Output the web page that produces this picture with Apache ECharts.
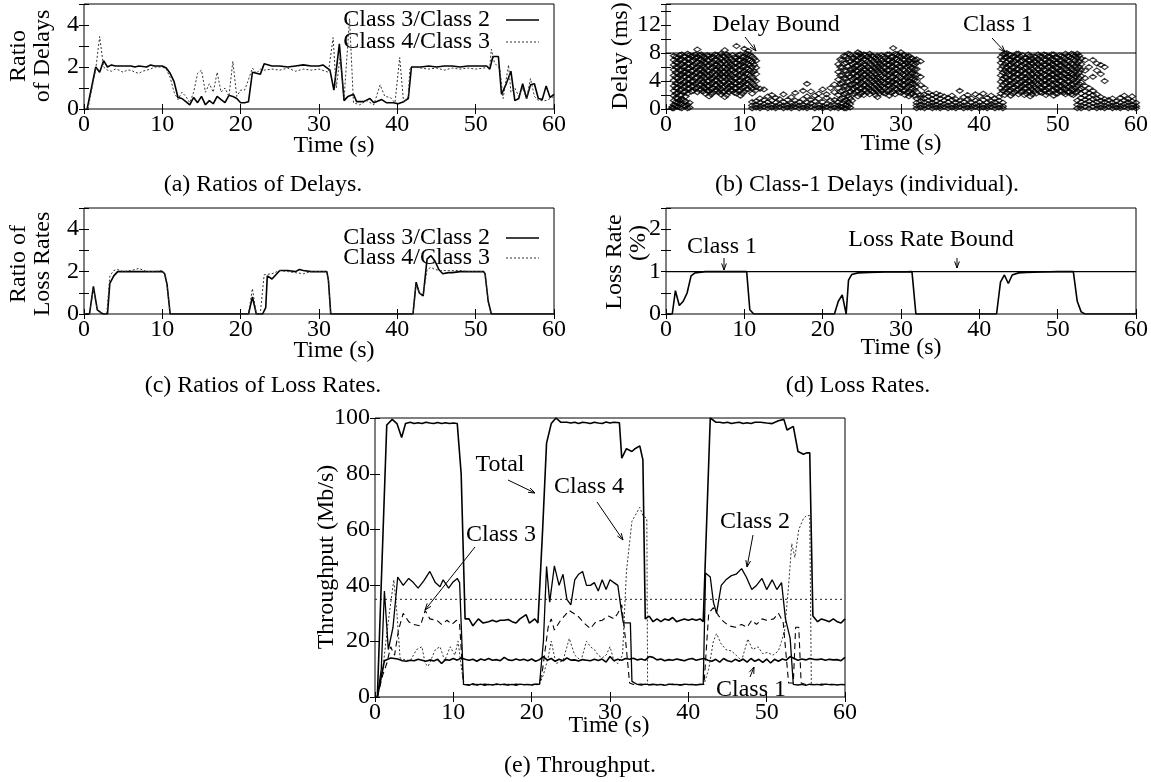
<!DOCTYPE html>
<html><head><meta charset="utf-8">
<script src="https://cdn.jsdelivr.net/npm/echarts@6.0.0/dist/echarts.min.js"></script>
<style>html,body{margin:0;padding:0;background:#fff}#c{width:1151px;height:782px}</style>
</head><body><div id="c"></div>
<script>
// ---------- DATA ----------
const xTicks = [0, 10, 20, 30, 40, 50, 60];
// (a) Ratios of delays
const aRatio32 = [[0.4,0],[1.5,2.0],[2.0,1.75],[2.5,2.3],[3.0,2.0],[3.5,2.1],[4,2.05],[5,2.05],[6,2.05],[6.5,2.0],[7,2.05],[8,2.0],[8.5,2.1],[9,2.05],[10,2.05],[10.5,1.95],[11,1.7],[11.5,1.3],[12,0.55],[12.5,0.5],[13,0.35],[13.5,0.2],[14,0.55],[14.5,0.3],[15,0.6],[15.5,0.2],[16,0.4],[16.5,0.25],[17,0.6],[17.5,0.45],[18,0.3],[18.5,0.65],[19,0.6],[19.5,0.5],[20,0.3],[20.5,0.3],[21,0.35],[21.5,1.75],[22,1.7],[22.5,1.65],[23,2.15],[24,2.05],[25,2.05],[26,2.0],[27,2.05],[28,2.1],[29,2.05],[30,2.05],[30.5,2.1],[31.4,1.85],[31.9,0.9],[32.6,3.1],[33.2,0.4],[33.7,0.6],[34.4,0.7],[34.8,0.35],[35.7,0.35],[36.5,0.5],[37,0.3],[38,0.45],[38.6,0.3],[39.5,0.3],[40.1,0.25],[40.8,0.35],[41.4,0.5],[41.8,2.0],[43,2.0],[44,2.05],[45,2.0],[46,2.05],[47,2.05],[48,2.0],[49,2.05],[50,2.05],[51.4,2.05],[51.8,1.9],[52.2,2.5],[52.9,2.5],[53.3,0.7],[53.9,1.2],[54.5,1.8],[55,0.4],[55.5,0.5],[56,1.2],[56.5,0.5],[57,1.15],[57.5,1.2],[58,0.5],[58.5,0.45],[59,1.1],[59.5,0.55],[60,0.7]];
const aRatio43 = [[0.5,0],[1.5,1.9],[2.0,3.45],[2.5,2.0],[3,1.85],[3.5,1.8],[4,1.9],[4.5,1.85],[5,1.75],[5.5,1.85],[6,1.85],[6.5,1.75],[7,1.7],[7.5,1.8],[8,1.85],[8.5,1.9],[9,2.0],[10,2.0],[10.5,1.9],[11,1.5],[11.5,0.8],[12,0.45],[12.5,0.8],[13,0.6],[13.5,0.3],[14,0.8],[14.5,1.7],[15,1.85],[15.5,0.8],[16,1.2],[16.5,0.8],[17,1.75],[17.5,0.8],[18,1.0],[18.5,0.6],[19,2.27],[19.5,0.6],[20,0.9],[20.5,0.9],[21,1.4],[21.5,1.95],[22,1.7],[22.5,1.9],[23,1.85],[24,1.9],[25,1.85],[26,1.95],[27,1.8],[28,1.9],[29,1.85],[30,1.9],[31.2,1.75],[31.8,3.4],[32.2,1.0],[32.7,2.5],[33.2,0.5],[33.9,4.3],[34.4,0.3],[35.2,0.2],[36.1,0.4],[37,0.2],[37.8,1.15],[38.4,0.6],[39.1,0.55],[39.7,0.3],[40.3,2.45],[40.8,0.3],[41.4,0.6],[41.6,1.9],[42,2.0],[43,1.95],[44,1.9],[45,1.95],[46,1.85],[47,1.95],[48,1.9],[49,1.95],[50,1.9],[51,1.95],[51.8,2.0],[52,2.85],[52.4,2.2],[53.1,1.9],[53.5,0.5],[54.2,2.1],[54.5,0.8],[55,1.0],[55.5,0.6],[56,1.0],[56.5,0.5],[57,1.45],[57.5,0.6],[58,0.4],[59,0.4],[60,0.6]];
// (b) Class-1 individual delays: [time, [delays...]]
const bHigh1 = [[0.8,[0.1,0.3]],[1.0,[0.1,0.6,1.2,1.9,2.6,3.3,4.1,4.8,5.6,6.3,7.0,7.6]],[1.25,[0.4,1.0,1.6,2.2,3.0,3.7,4.5,5.2,6.0,6.7,7.4]],[1.5,[0.3,0.9,1.5,2.3,3.0,3.6,4.4,5.1,5.9,6.6,7.3]],[1.75,[0.2,0.8,1.2,2.0,2.7,3.4,4.0,4.8,5.5,6.2,7.0,7.7]],[2.0,[0.1,0.7,1.4,2.0,2.8,3.5,4.2,4.9,5.6,6.4,7.1,7.8]],[2.25,[0.5,1.3,2.4,3.1,3.8,4.6,5.3,6.0,6.8,7.5]],[2.5,[0.4,1.1,1.8,2.5,3.2,3.9,4.6,5.3,6.1,6.8,7.5]],[2.75,[0.1,0.6,2.2,2.9,3.6,4.3,5.1,5.8,6.5,7.2,7.9]],[3.0,[0.2,0.9,2.9,3.6,4.3,5.0,5.8,6.5,7.2,7.7]],[3.25,[2.5,3.2,3.9,4.7,5.4,6.1,6.8,7.5]],[3.5,[2.6,3.3,4.0,4.8,5.5,6.2,6.9,7.6]],[3.75,[2.9,3.6,4.4,5.1,5.8,6.5,7.3,7.8]],[4.0,[2.4,3.1,3.8,4.5,5.2,6.0,6.7,7.4,8.5]],[4.25,[2.7,3.4,4.1,4.9,5.6,6.3,7.1,7.7]],[4.5,[2.8,3.5,4.3,5.0,5.7,6.4,7.1,7.8]],[4.75,[2.5,3.2,3.9,4.7,5.4,6.2,6.9,7.6]],[5.0,[2.2,2.9,3.6,4.4,5.1,5.8,6.6,7.3]],[5.25,[2.6,3.3,4.0,4.8,5.5,6.2,7.0,7.7]],[5.5,[1.8,2.6,3.3,4.0,4.7,5.4,6.2,6.9,7.6]],[5.75,[2.1,2.8,3.6,4.3,5.0,5.8,6.5,7.3]],[6.0,[2.3,3.0,3.8,4.5,5.3,6.0,6.7,7.5]],[6.25,[2.6,3.4,4.1,4.8,5.6,6.3,7.0,7.8]],[6.5,[2.7,3.4,4.1,4.9,5.6,6.3,7.0,7.7]],[6.75,[2.4,3.1,3.8,4.6,5.3,6.1,6.8,7.5]],[7.0,[2.1,2.8,3.5,4.3,5.0,5.7,6.5,7.2,7.9]],[7.25,[2.4,3.1,3.9,4.6,5.3,6.0,6.8,7.6]],[7.5,[1.7,2.5,3.2,3.9,4.6,5.3,6.0,6.8,7.5,8.4]],[7.75,[2.0,2.8,3.5,4.2,5.0,5.7,6.4,7.1,7.8]],[8.0,[2.4,3.1,3.8,4.6,5.3,6.1,6.8,7.6]],[8.25,[2.7,3.4,4.2,4.9,5.6,6.4,7.2]],[8.5,[2.6,3.3,4.0,4.7,5.5,6.2,6.9,7.7]],[8.75,[2.3,3.0,3.7,4.4,5.2,5.9,6.6,7.4]],[9.0,[2.2,3.0,3.7,4.4,5.1,5.9,6.6,7.3,9.0]],[9.25,[2.6,3.3,4.0,4.8,5.5,6.2,7.0,7.7]],[9.5,[1.9,2.7,3.4,4.1,4.9,5.6,6.3,7.0,7.8]],[9.75,[2.2,3.0,3.7,4.5,5.2,6.0,6.7,7.4]],[10.0,[2.5,3.2,3.9,4.6,5.4,6.1,6.8,7.5,8.6]],[10.25,[2.8,3.6,4.3,5.1,5.8,6.6,7.3,7.9]],[10.5,[2.8,3.5,4.2,5.0,5.7,6.4,7.1,7.8,8.3]],[10.75,[3.2,4.0,4.8,5.5,6.3,7.0,7.7]],[11.0,[2.9,3.7,4.5,5.2,6.0,6.8,7.5]],[11.25,[3.4,4.2,5.4,6.3,7.2]],[11.5,[3.1,4.0,5.0,5.9,6.9]]];
const bLow1 = [[11.0,[0.1,0.5,1.0,2.2]],[11.5,[0.2,0.6,1.1,2.7]],[12.0,[0.1,0.4,0.9,1.5,2.9]],[12.5,[0.3,0.7,1.3,2.8]],[13.0,[0.1,0.5,1.0,1.8]],[13.5,[0.2,0.6,1.2,2.0]],[14.0,[0.1,0.4,0.9,1.6]],[14.5,[0.3,0.7,1.4]],[15.0,[0.1,0.5,1.0,2.1]],[15.5,[0.2,0.6,1.3]],[16.0,[0.1,0.4,0.8,1.7]],[16.5,[0.3,0.7,1.2,2.3]],[17.0,[0.1,0.5,1.0]],[17.5,[0.2,0.6,1.4,2.6]],[18.0,[0.1,0.4,0.9,1.8,3.6]],[18.5,[0.3,0.8,1.3,2.5]],[19.0,[0.1,0.5,1.1,1.9]],[19.5,[0.2,0.6,1.5,2.2]],[20.0,[0.1,0.4,1.0,2.8]],[20.5,[0.3,0.7,1.6,2.1]],[21.0,[0.1,0.5,1.2,3.0]],[21.5,[0.2,0.6,1.3,2.4,3.5]],[22.0,[0.1,0.5,1.0,2.0,3.0,4.2,5.3,6.4]],[22.25,[0.3,1.4,2.5,3.6,4.8,6.0,7.1]],[22.5,[0.3,0.8,1.6,2.6,3.7,4.8,5.9,7.0]],[22.75,[0.1,1.1,2.1,3.3,4.4,5.5,6.5,7.6]],[23.0,[0.1,0.6,1.3,2.2,3.2,4.3,5.4,6.6,7.5]],[23.25,[0.4,1.0,1.9,2.9,3.9,5.0,6.1,7.2,7.9]],[23.5,[0.2,0.7,1.5,2.5,3.5,4.6,5.7,6.8,7.8]]];
const bHigh2 = [[23.75,[1.2,2.0,2.8,3.5,4.2,5.0,5.7,6.4,7.2]],[24.0,[2.2,2.9,3.6,4.4,5.1,5.8,6.6,7.3]],[24.25,[2.5,3.2,4.0,4.7,5.5,6.2,7.0,7.7]],[24.5,[1.8,2.6,3.3,4.0,4.7,5.4,6.2,6.9,7.6,8.1]],[24.75,[2.1,2.9,3.6,4.3,5.1,5.8,6.5,7.3,7.9]],[25.0,[2.3,3.0,3.8,4.5,5.3,6.0,6.7,7.5]],[25.25,[2.0,2.7,3.4,4.2,4.9,5.7,6.4,7.1,7.8]],[25.5,[2.7,3.4,4.1,4.9,5.6,6.3,7.0,7.7]],[25.75,[2.4,3.1,3.8,4.6,5.3,6.0,6.8,7.5]],[26.0,[2.1,2.8,3.5,4.3,5.0,5.7,6.5,7.2,7.9]],[26.25,[2.6,3.3,4.1,4.8,5.6,6.3,7.1,7.6]],[26.5,[2.4,3.1,3.9,4.6,5.3,6.0,6.8,7.5]],[26.75,[2.0,2.8,3.5,4.2,5.0,5.8,6.5,7.3]],[27.0,[1.7,2.5,3.2,3.9,4.6,5.4,6.1,6.9,7.6]],[27.25,[2.2,2.9,3.7,4.4,5.2,5.9,6.6,7.4]],[27.5,[2.6,3.3,4.0,4.7,5.5,6.2,6.9,7.7]],[27.75,[2.3,3.1,3.8,4.5,5.3,6.0,6.7,7.5]],[28.0,[2.2,3.0,3.7,4.4,5.1,5.9,6.6,7.3]],[28.25,[2.5,3.3,4.0,4.8,5.5,6.3,7.0,7.8]],[28.5,[1.9,2.7,3.4,4.1,4.9,5.6,6.3,7.0,7.8]],[28.75,[2.3,3.0,3.8,4.5,5.2,6.0,6.7,7.4]],[29.0,[2.5,3.2,3.9,4.6,5.4,6.1,6.8,7.5,8.7]],[29.25,[2.1,2.9,3.6,4.3,5.1,5.8,6.5,7.2,7.9]],[29.5,[2.8,3.5,4.2,5.0,5.7,6.4,7.1,7.8]],[29.75,[2.4,3.2,3.9,4.7,5.4,6.1,6.9,7.6]],[30.0,[2.3,3.0,3.8,4.5,5.2,6.0,6.7,7.4,8.1]],[30.25,[2.6,3.4,4.1,4.9,5.6,6.3,7.1,7.7]],[30.5,[2.0,2.7,3.4,4.1,4.8,5.5,6.3,7.0,7.7]],[30.75,[2.3,3.1,3.8,4.5,5.2,6.0,6.6,7.4]],[31.0,[1.8,2.5,3.3,4.0,4.7,5.5,6.2,6.9,7.6]],[31.25,[2.1,2.8,3.6,4.4,5.1,5.9,6.6,7.3]],[31.5,[2.2,2.9,3.6,4.3,5.1,5.8,6.5,7.2]],[31.75,[1.9,2.7,3.5,4.2,5.0,5.7,6.4,7.0]],[32.0,[1.5,2.4,3.2,4.0,4.9,5.7,6.6,7.1]],[32.5,[2.0,3.4,4.6,6.8]]];
const bLow2 = [[32.0,[0.1,0.5,0.9]],[32.5,[0.2,0.6,1.1,1.6]],[33.0,[0.1,0.5,1.0,1.5,2.1,3.0]],[33.5,[0.3,0.7,1.2,1.8,2.3]],[34.0,[0.1,0.5,0.9,1.4,2.0]],[34.5,[0.2,0.6,1.1,1.7,2.2]],[35.0,[0.1,0.4,0.9,1.5,2.0]],[35.5,[0.3,0.7,1.2,1.8]],[36.0,[0.1,0.5,1.0,1.6]],[36.5,[0.2,0.6,1.3,1.9]],[37.0,[0.1,0.4,0.9,1.4]],[37.5,[0.3,0.7,1.2,2.6]],[38.0,[0.1,0.5,1.0,1.7]],[38.5,[0.2,0.6,1.4,2.0]],[39.0,[0.1,0.4,0.9,1.5]],[39.5,[0.3,0.7,1.2,2.1]],[40.0,[0.1,0.5,1.0,1.8]],[40.5,[0.2,0.6,1.3,2.2]],[41.0,[0.1,0.4,0.9,1.6]],[41.5,[0.3,0.7,1.1,1.9]],[42.0,[0.1,0.5,1.0,1.5]],[42.5,[0.2,0.6,1.2,1.7]],[43.0,[0.1,0.4,0.9]]];
const bHigh3 = [[42.75,[2.2,3.0,3.9,4.8,5.7,6.6,7.4]],[43.0,[2.6,3.4,4.3,5.2,6.1,7.0,7.8]],[43.25,[2.0,2.8,3.7,4.6,5.5,6.4,7.3,7.9]],[43.5,[2.3,3.0,3.8,4.5,5.3,6.0,6.7,7.4,8.0]],[43.75,[2.6,3.3,4.1,4.9,5.6,6.3,7.1,7.8]],[44.0,[1.9,2.7,3.4,4.1,4.8,5.5,6.3,7.0,7.7]],[44.25,[2.2,3.0,3.7,4.5,5.2,5.9,6.6,7.4]],[44.5,[2.4,3.1,3.9,4.6,5.3,6.0,6.8,7.5]],[44.75,[2.7,3.4,4.2,5.0,5.7,6.4,7.2,7.9]],[45.0,[2.1,2.8,3.5,4.3,5.0,5.7,6.5,7.2,7.9]],[45.25,[2.4,3.1,3.8,4.6,5.4,6.1,6.8,7.5]],[45.5,[2.6,3.3,4.0,4.7,5.5,6.2,6.9,7.7]],[45.75,[2.0,2.9,3.6,4.3,5.1,5.8,6.5,7.3]],[46.0,[2.2,3.0,3.7,4.4,5.1,5.9,6.6,7.3]],[46.25,[2.5,3.3,4.0,4.8,5.5,6.3,7.0,7.8]],[46.5,[1.8,2.5,3.2,3.9,4.6,5.4,6.1,6.9,7.6]],[46.75,[2.1,2.8,3.6,4.3,5.0,5.7,6.5,7.2]],[47.0,[2.5,3.2,3.9,4.6,5.4,6.1,6.8,7.5]],[47.25,[2.2,3.0,3.7,4.5,5.2,6.0,6.7,7.4]],[47.5,[2.8,3.5,4.2,5.0,5.7,6.4,7.1,7.8]],[47.75,[2.4,3.1,3.9,4.6,5.3,6.1,6.8,7.6]],[48.0,[2.3,3.0,3.8,4.5,5.2,6.0,6.7,7.4]],[48.25,[2.6,3.4,4.1,4.9,5.6,6.3,7.1,7.8]],[48.5,[2.0,2.7,3.4,4.1,4.8,5.5,6.3,7.0,7.7]],[48.75,[2.3,3.0,3.8,4.5,5.3,6.0,6.7,7.5]],[49.0,[2.4,3.1,3.9,4.6,5.3,6.1,6.8,7.5]],[49.25,[2.7,3.5,4.2,4.9,5.7,6.4,7.2,7.8]],[49.5,[1.9,2.7,3.4,4.2,4.9,5.6,6.3,7.0,7.8]],[49.75,[2.2,3.0,3.7,4.5,5.2,5.9,6.6,7.4]],[50.0,[2.2,2.9,3.6,4.4,5.1,5.8,6.6,7.3]],[50.25,[2.5,3.2,4.0,4.7,5.4,6.2,6.9,7.7]],[50.5,[2.6,3.3,4.0,4.7,5.5,6.2,6.9,7.6]],[50.75,[2.3,3.0,3.7,4.5,5.2,6.0,6.7,7.4]],[51.0,[2.1,2.8,3.5,4.3,5.0,5.7,6.4,7.2,7.9]],[51.25,[2.4,3.1,3.9,4.6,5.4,6.1,6.9,7.6]],[51.5,[2.4,3.2,3.9,4.6,5.3,6.1,6.8,7.5]],[51.75,[2.1,2.9,3.6,4.4,5.1,5.8,6.5,7.3,7.9]],[52.0,[2.0,2.7,3.5,4.2,4.9,5.6,6.4,7.1,7.8]],[52.25,[2.3,3.0,3.8,4.6,5.3,6.1,6.9,7.6]],[52.5,[2.5,3.3,4.1,4.9,5.7,6.5,7.3,7.9]],[52.75,[2.8,3.6,4.4,5.2,6.0,6.8,7.6]],[53.0,[2.9,3.8,4.7,5.6,6.4,7.2]],[53.5,[3.3,4.4,5.5,7.0]],[54.0,[3.0,6.0]],[54.5,[4.6,7.0]],[55.0,[5.5,6.5]],[55.5,[5.0,6.3]],[56.0,[4.0,6.0]]];
const bLow3 = [[52.5,[0.1,0.6,1.2]],[53.0,[0.1,0.5,1.0,1.6,2.2]],[53.5,[0.3,0.8,1.3,1.9,2.5]],[54.0,[0.1,0.6,1.1,1.7,2.3]],[54.5,[0.3,0.8,1.4,2.0,2.6]],[55.0,[0.1,0.5,1.0,1.5,2.1]],[55.5,[0.2,0.6,1.2,1.7]],[56.0,[0.1,0.5,1.0,1.4]],[56.5,[0.3,0.7,1.3]],[57.0,[0.1,0.5,0.9,1.5]],[57.5,[0.2,0.6,1.1]],[58.0,[0.1,0.4,0.9,1.6]],[58.5,[0.3,0.7,1.2,1.9]],[59.0,[0.1,0.5,1.0,1.4]],[59.5,[0.2,0.6,1.1,1.8]],[60.0,[0.1,0.4,0.9]]];
const bDelayBound = 8;
// (c) Ratios of loss rates
const cRatio32 = [[0,0],[0.7,0],[1.2,1.3],[1.7,0.2],[2.2,0.05],[2.5,0],[3.0,0],[3.3,1.45],[3.8,1.8],[4.3,2.0],[5,2.0],[6,2.0],[7,2.0],[8,2.0],[9,2.0],[10,2.0],[10.3,1.9],[10.6,1.4],[11,0],[21,0],[21.5,0.8],[22,0],[22.8,0],[23.2,0.3],[23.4,1.8],[24,1.65],[24.5,1.85],[25,2.05],[26,2.05],[27,2.0],[27.5,2.1],[28,2.05],[29,2.0],[30,2.0],[31,2.0],[31.2,1.6],[31.5,0],[42,0],[42.4,1.5],[42.8,1.0],[43.3,0.85],[43.8,2.6],[44.3,2.75],[44.8,2.5],[45.3,2.1],[45.8,1.9],[46.5,1.95],[47,1.95],[48,2.0],[49,2.0],[50,2.0],[51,2.0],[51.2,1.9],[51.6,0.6],[52,0],[60,0]];
const cRatio43 = [[0,0],[0.7,0],[1.2,1.2],[1.7,0.2],[2.2,0.05],[2.5,0],[2.9,0],[3.3,1.8],[3.8,2.05],[4.3,2.1],[5,2.0],[6,2.05],[7,2.15],[8,2.0],[9,2.0],[10,2.05],[10.3,1.9],[10.6,1.4],[11,0],[21,0],[21.5,1.2],[22,0],[22.5,0],[23,1.85],[24,1.9],[25,2.05],[26,2.0],[27,1.95],[28,1.9],[29,2.0],[30,2.0],[31,2.0],[31.2,1.6],[31.5,0],[42,0],[42.4,1.4],[42.8,1.0],[43.3,0.9],[43.8,2.1],[44.3,2.2],[44.8,2.1],[45.5,2.05],[46.5,2.05],[47,2.05],[48,2.05],[49,2.0],[50,2.0],[51,2.0],[51.2,1.9],[51.6,0.6],[52,0],[60,0]];
// (d) Loss rates
const dClass1 = [[0,0],[0.8,0],[1.2,0.55],[1.7,0.2],[2.2,0.3],[2.7,0.5],[3.2,0.9],[3.7,0.97],[5,1.0],[6,1.0],[8,1.0],[10,1.0],[10.3,1.0],[10.7,0.1],[11.2,0],[21.5,0],[22,0.3],[22.5,0.45],[23,0],[23.3,0.8],[23.7,0.93],[24.5,0.97],[26,0.98],[28,0.99],[30,0.99],[31.4,1.0],[31.9,0],[42.2,0],[42.7,0.75],[43.2,0.92],[43.7,0.72],[44.2,0.92],[45,0.97],[46,0.98],[48,0.99],[50,1.0],[52,1.0],[52.5,0.3],[53,0.05],[53.5,0],[60,0]];
const dLossBound = 1;
// (e) Throughput (Mb/s)
const eTotal = [[0.3,0],[1.5,97.5],[2.2,99.5],[2.8,98],[3.4,93],[3.9,98],[4.5,98.5],[5,98],[5.5,98.3],[6,98],[6.5,98.5],[7,98.2],[7.5,98],[8,98.4],[8.5,98],[9,98.3],[9.5,98],[10,98.2],[10.5,98],[11,80],[11.5,28],[12,28],[12.5,25.5],[13.2,28],[13.8,26.5],[14.5,27],[15,27.5],[15.5,27],[16,27.5],[16.5,27.5],[17,27.8],[17.5,27],[18,26.5],[18.5,28],[19.3,29.5],[19.7,26.5],[20.4,28],[20.8,26.5],[21.4,60],[21.9,91],[22.5,98],[23.1,100],[23.7,98.5],[24.5,98.5],[25,98.2],[25.5,98.5],[26,98],[26.5,98.5],[27,98.3],[27.5,98],[28,98.5],[28.5,98.2],[29,98],[29.5,98.6],[30,98.2],[30.5,98.5],[31.2,98.3],[31.5,85.6],[32.1,89],[32.8,88],[33.2,89],[33.8,90],[34.2,85],[34.5,28],[35,29],[35.5,27],[36,28],[36.5,27],[37,28],[37.5,27.5],[38,28.5],[38.5,27],[39,27.5],[39.5,28],[40,27.5],[40.5,28],[41,27.5],[41.5,28],[41.9,27],[42.8,100],[43.5,98.5],[44,98.5],[44.5,98.2],[45,98.5],[45.5,98],[46,98.3],[46.5,98.5],[47,98],[47.5,98.3],[48,98],[48.5,98.5],[49.2,98.5],[50,98.2],[50.7,98],[51.5,99],[52.2,99.5],[52.6,95.7],[53.4,97],[54,88],[54.7,87],[55.1,87.5],[55.5,87.5],[55.9,29],[56.5,27],[57,28],[57.5,27.5],[58,27],[58.5,28],[59,27],[59.5,26.5],[60,28]];
const eClass1 = [[0.3,0],[1.2,13],[2,14],[2.5,13.8],[3,13.5],[3.5,13],[4,12.8],[4.5,13.2],[5,13],[5.5,13.5],[6,13.2],[6.5,12.8],[7,13.3],[7.5,12.9],[8,13.5],[8.5,12],[9,13.4],[9.5,13.2],[10,13.8],[10.5,13.2],[11,14],[11.5,13.5],[12,13.2],[12.5,13.5],[13,12.8],[13.5,13.6],[14,13.2],[14.5,13.8],[15,13.2],[15.5,13.4],[16,13],[16.5,14.2],[17,13.3],[17.5,13.1],[18,13.6],[18.5,13.2],[19,13.5],[19.5,13],[20,13.6],[20.5,12.8],[21,13.4],[21.5,14.5],[22,13.2],[22.5,13.8],[23,12.8],[23.5,13.5],[24,13],[24.5,14],[25,13.2],[25.5,13.3],[26,12.9],[26.5,13.4],[27,13.2],[27.5,13],[28,13.5],[28.5,13.1],[29,13.6],[29.5,12.5],[30,14.5],[30.5,13],[31,13.5],[31.5,13.2],[32,13.8],[32.5,13.5],[33,13.9],[33.5,13.3],[34,13.6],[34.5,13.2],[35,14.5],[35.5,14.2],[36,13.3],[36.5,13.6],[37,13],[37.5,13.4],[38,13.2],[38.5,13.6],[39,13.3],[39.5,13],[40,13.5],[40.5,13.8],[41,13.2],[41.5,13.5],[42,13.8],[42.5,13.2],[43,12.8],[43.5,13.5],[44,12.5],[44.5,13.8],[45,13],[45.5,12.6],[46,13.5],[46.5,12.8],[47,13.6],[47.5,12.5],[48,13.8],[48.5,12.8],[49,13.5],[49.5,12.4],[50,13.6],[50.5,12.2],[51,13.5],[51.5,12.8],[52,13.6],[52.5,13.2],[53,14.5],[53.5,13.8],[54,13.2],[54.5,13.6],[55,13.3],[55.5,13.8],[56,13.5],[56.5,13.4],[57,13.6],[57.5,13.2],[58,13.5],[58.5,13.3],[59,13.4],[59.5,13],[60,14.2]];
const eClass2 = [[0.3,0],[0.8,10],[1.2,38],[1.7,17],[2.3,25],[2.9,43],[3.6,40],[4.3,42.5],[4.9,41],[5.5,39],[6.2,41.5],[7,45],[7.7,41],[8.3,39.5],[8.7,42],[9.4,39],[9.9,41],[10.5,42.5],[10.8,41],[11.3,4.5],[12,4.2],[12.5,4.8],[13,4.3],[13.5,4.6],[14,4.2],[14.5,4.5],[15,4.3],[15.5,4.7],[16,4.4],[16.5,4.6],[17,4.3],[17.5,4.5],[18,4.2],[18.5,4.6],[19,4.4],[19.5,4.5],[20,4.3],[20.5,4.6],[21,4.5],[21.5,20],[21.9,46.8],[22.3,34],[22.9,47],[23.5,40],[24,44],[24.5,35],[25,33],[25.5,42],[26,44],[26.5,45],[27,40],[27.5,40],[28,41],[28.5,38],[29,42],[29.5,38.5],[30,42],[30.5,41],[31,40],[31.5,30],[31.7,26.6],[32.6,26.6],[32.8,5.6],[33.5,4.5],[34,4.3],[34.5,4.6],[35,4.4],[35.5,4.6],[36,4.3],[36.5,4.5],[37,4.2],[37.5,4.6],[38,4.4],[38.5,4.5],[39,4.3],[39.5,4.6],[40,4.4],[40.5,4.5],[41,4.3],[41.5,4.6],[41.9,4.5],[42.2,44.4],[42.8,43],[43.2,34],[43.6,30],[44.2,40],[44.8,42],[45.5,43.5],[46.1,44],[46.8,46],[47.4,43],[48.1,38.5],[48.7,40],[49.4,42.5],[50,38.5],[50.7,42],[51.3,38.5],[51.9,41],[52.4,28],[53,21],[53.4,4.5],[54,4.3],[54.5,4.5],[55,4.2],[55.5,4.6],[56,4.4],[56.5,4.5],[57,4.3],[57.5,4.6],[58,4.4],[58.5,4.5],[59,4.3],[59.5,4.5],[60,4.4]];
const eClass3 = [[0.3,0],[1,8],[1.5,12],[2,18],[2.5,15],[3,24],[3.6,30],[4.3,27],[4.9,26],[5.8,25.5],[6.4,31],[7,28],[7.9,27.5],[8.5,26],[9.2,27.5],[9.8,26],[10.4,27.5],[10.8,26],[11.3,4.5],[12,4.5],[13,4.3],[14,4.6],[15,4.4],[16,4.5],[17,4.3],[18,4.6],[19,4.4],[20,4.5],[21,4.6],[21.4,10],[22.1,25],[22.5,28],[22.9,24],[23.7,27.5],[24.8,31],[25.9,29],[26.7,26.5],[27.5,24.5],[28.2,27],[29,27.5],[29.8,29],[30.5,28],[31,30],[31.5,33],[32,20],[32.5,5],[33,4.5],[34,4.6],[35,4.3],[36,4.5],[37,4.4],[38,4.6],[39,4.3],[40,4.5],[41,4.4],[42,4.5],[42.6,30],[43.2,32],[43.9,29],[44.5,27],[45.2,25.5],[46,25],[46.8,26],[47.5,25],[48.1,27.5],[48.7,26],[49.4,28],[50,27.5],[50.9,28],[51.5,30],[52.1,27],[52.8,5],[53.4,5],[53.7,25],[54.1,25],[54.4,5],[55,4.5],[56,4.4],[57,4.6],[58,4.4],[59,4.5],[60,4.4]];
const eClass4 = [[0.3,0],[1,10],[1.6,25],[2.4,42],[2.8,30],[3.2,14],[3.6,13.5],[4.5,13],[5.3,17],[6.0,18],[6.4,12],[6.8,11],[7.7,17],[8.3,18],[8.9,13],[9.6,18],[10.2,15],[10.6,20],[11.1,9],[11.4,4.5],[12,4.4],[13,4.6],[14,4.3],[15,4.5],[16,4.4],[17,4.6],[18,4.4],[19,4.5],[20,4.3],[21,4.5],[21.5,8],[22.1,14],[22.5,20],[23.1,12],[24,13],[24.8,21],[25.5,15],[26.3,13],[27,20],[27.5,18],[28,17],[28.5,15],[29,14],[29.5,15],[30,18],[30.5,13],[31,12],[31.6,15],[32.1,45],[32.8,63],[33.2,65],[33.8,68],[34.2,65],[34.7,64],[34.8,4.5],[35.5,4.4],[36,4.6],[37,4.3],[38,4.5],[39,4.4],[40,4.6],[41,4.4],[42,4.5],[42.6,10],[43.2,20],[43.6,22.7],[44.2,19],[44.8,17],[45.5,16.5],[46.1,15],[46.8,13],[47.6,20.8],[48.2,17],[48.9,18],[49.5,15.5],[50.1,16],[50.8,15],[51.5,16.5],[51.9,20],[52.3,24],[52.8,40],[53.2,55],[53.6,50],[54.1,60],[54.7,64],[55.1,65],[55.5,65],[55.7,5],[56,4.5],[57,4.4],[58,4.6],[59,4.4],[60,4.5]];
const eRef = 35;

// ---------- CHART ----------
const FONT = 'Liberation Serif';
const FS = 24;
const chart = echarts.init(document.getElementById('c'), null, {renderer: 'canvas', width: 1151, height: 782});

const grids = [
  {left: 84, top: 4, width: 470, height: 105},
  {left: 666, top: 4, width: 470, height: 105},
  {left: 84, top: 208, width: 470, height: 106},
  {left: 666, top: 208, width: 470, height: 106},
  {left: 375, top: 418, width: 470, height: 279}
].map(g => Object.assign(g, {show: true, borderColor: '#000', borderWidth: 1, backgroundColor: 'transparent'}));

const ySpec = [
  {max: 5, interval: 1, fmt: v => (v % 2 === 0 ? String(v) : '')},
  {max: 15, interval: 2, fmt: v => (v % 4 === 0 ? String(v) : '')},
  {max: 5, interval: 1, fmt: v => (v % 2 === 0 ? String(v) : '')},
  {max: 2.5, interval: 0.5, fmt: v => (Number.isInteger(v) ? String(v) : '')},
  {max: 100, interval: 20, fmt: v => String(v)}
];
const tickStyle = {show: true, inside: true, length: 5, lineStyle: {color: '#000', width: 1}};
const lblStyle = {color: '#000', fontFamily: FONT, fontSize: FS};
const xAxes = [], yAxes = [];
grids.forEach((g, i) => {
  ['bottom', 'top'].forEach((pos, k) => xAxes.push({
    gridIndex: i, type: 'value', min: xTicks[0], max: xTicks[xTicks.length - 1], interval: 10, position: pos,
    axisLine: {show: false}, axisTick: tickStyle, splitLine: {show: false},
    axisLabel: Object.assign({show: k === 0, margin: 4}, lblStyle)
  }));
  ['left', 'right'].forEach((pos, k) => yAxes.push({
    gridIndex: i, type: 'value', min: 0, max: ySpec[i].max, interval: ySpec[i].interval, position: pos,
    axisLine: {show: false}, axisTick: tickStyle, splitLine: {show: false},
    axisLabel: Object.assign({show: k === 0, margin: 5, formatter: ySpec[i].fmt}, lblStyle)
  }));
});

function line(gi, data, style) {
  return {type: 'line', xAxisIndex: 2 * gi, yAxisIndex: 2 * gi, data: data, symbol: 'none', showSymbol: false,
    animation: false, silent: true, lineStyle: Object.assign({color: '#000', width: 1.5, type: 'solid'}, style || {})};
}
const SOLID = {width: 1.6};
const DOT = {width: 1, type: [2, 2], color: '#333'};
const DASH = {width: 1.1, type: [6, 4]};

function flat(cols) {
  const pts = [];
  cols.forEach(([t, ds]) => ds.forEach(d => pts.push([t, d])));
  return pts;
}
const bPoints = [].concat(flat(bHigh1), flat(bLow1), flat(bHigh2), flat(bLow2), flat(bHigh3), flat(bLow3));

const series = [
  line(0, aRatio32, SOLID),
  line(0, aRatio43, DOT),
  {type: 'scatter', xAxisIndex: 2, yAxisIndex: 2, data: bPoints, symbol: 'diamond', symbolSize: [7, 5], animation: false, silent: true,
    itemStyle: {color: 'rgba(0,0,0,0)', borderColor: '#000', borderWidth: 1.2}},
  line(1, [[0, bDelayBound], [60, bDelayBound]], {width: 1.2}),
  line(2, cRatio32, SOLID),
  line(2, cRatio43, DOT),
  line(3, [[0, dLossBound], [60, dLossBound]], {width: 1.2}),
  line(3, dClass1, SOLID),
  line(4, [[0, eRef], [60, eRef]], {width: 1, type: [2, 3], color: '#222'}),
  line(4, eClass4, DOT),
  line(4, eClass3, DASH),
  line(4, eClass2, {width: 1.3}),
  line(4, eClass1, SOLID),
  line(4, eTotal, SOLID)
];

function txt(x, y, s, opt) {
  return Object.assign({type: 'text', x: x, y: y, silent: true,
    style: Object.assign({text: s, fill: '#000', font: (opt && opt.size || FS) + 'px "' + FONT + '"', align: 'center', verticalAlign: 'middle'}, opt && opt.style || {})},
    opt && opt.rot ? {rotation: Math.PI / 2} : {});
}
function arrow(x1, y1, x2, y2) {
  const a = Math.atan2(y2 - y1, x2 - x1), h = 7, s = 0.35;
  return [
    {type: 'line', silent: true, shape: {x1: x1, y1: y1, x2: x2, y2: y2}, style: {stroke: '#000', lineWidth: 1}},
    {type: 'polyline', silent: true, shape: {points: [[x2 - h * Math.cos(a - s), y2 - h * Math.sin(a - s)], [x2, y2], [x2 - h * Math.cos(a + s), y2 - h * Math.sin(a + s)]]}, style: {stroke: '#000', lineWidth: 1, fill: null}}
  ];
}
function legendSample(x1, x2, y, dotted) {
  return {type: 'line', silent: true, shape: {x1: x1, y1: y, x2: x2, y2: y},
    style: {stroke: dotted ? '#333' : '#000', lineWidth: dotted ? 1 : 1.6, lineDash: dotted ? [2, 2] : null}};
}
const CAP = 24;
const graphics = [
  // (a)
  txt(19, 56, 'Ratio', {rot: true}), txt(43, 56, 'of Delays', {rot: true}),
  txt(334, 146, 'Time (s)'),
  txt(490, 20, 'Class 3/Class 2', {style: {align: 'right'}}), legendSample(506, 539, 20, false),
  txt(490, 42, 'Class 4/Class 3', {style: {align: 'right'}}), legendSample(506, 539, 42, true),
  txt(263, 185, '(a) Ratios of Delays.', {size: CAP}),
  // (b)
  txt(621, 56, 'Delay (ms)', {rot: true}),
  txt(901, 144, 'Time (s)'),
  txt(776, 25, 'Delay Bound'), ...arrow(745, 37, 756, 51),
  txt(998, 25, 'Class 1'), ...arrow(992, 38, 1005, 52),
  txt(867, 185, '(b) Class-1 Delays (individual).', {size: CAP}),
  // (c)
  txt(19, 264, 'Ratio of', {rot: true}), txt(43, 264, 'Loss Rates', {rot: true}),
  txt(334, 351, 'Time (s)'),
  txt(490, 238, 'Class 3/Class 2', {style: {align: 'right'}}), legendSample(506, 539, 238, false),
  txt(490, 258, 'Class 4/Class 3', {style: {align: 'right'}}), legendSample(506, 539, 258, true),
  txt(263, 386, '(c) Ratios of Loss Rates.', {size: CAP}),
  // (d)
  txt(615, 262, 'Loss Rate', {rot: true}), txt(639, 243, '(%)', {rot: true}),
  txt(901, 348, 'Time (s)'),
  txt(722, 247, 'Class 1'), ...arrow(724, 258, 724, 270),
  txt(931, 240, 'Loss Rate Bound'), ...arrow(957, 258, 957, 268),
  txt(858, 386, '(d) Loss Rates.', {size: CAP}),
  // (e)
  txt(327, 557, 'Throughput (Mb/s)', {rot: true}),
  txt(609, 726, 'Time (s)'),
  txt(500, 465, 'Total'), ...arrow(508, 480, 535, 493),
  txt(501, 535, 'Class 3'), ...arrow(475, 547, 425, 610),
  txt(589, 487, 'Class 4'), ...arrow(597, 502, 623, 540),
  txt(755, 522, 'Class 2'), ...arrow(753, 535, 747, 567),
  txt(751, 690, 'Class 1'), ...arrow(750, 677, 754, 667),
  txt(580, 766, '(e) Throughput.', {size: CAP})
];

chart.setOption({
  animation: false,
  backgroundColor: '#fff',
  grid: grids,
  xAxis: xAxes,
  yAxis: yAxes,
  series: series,
  graphic: {elements: graphics}
});
</script></body></html>
